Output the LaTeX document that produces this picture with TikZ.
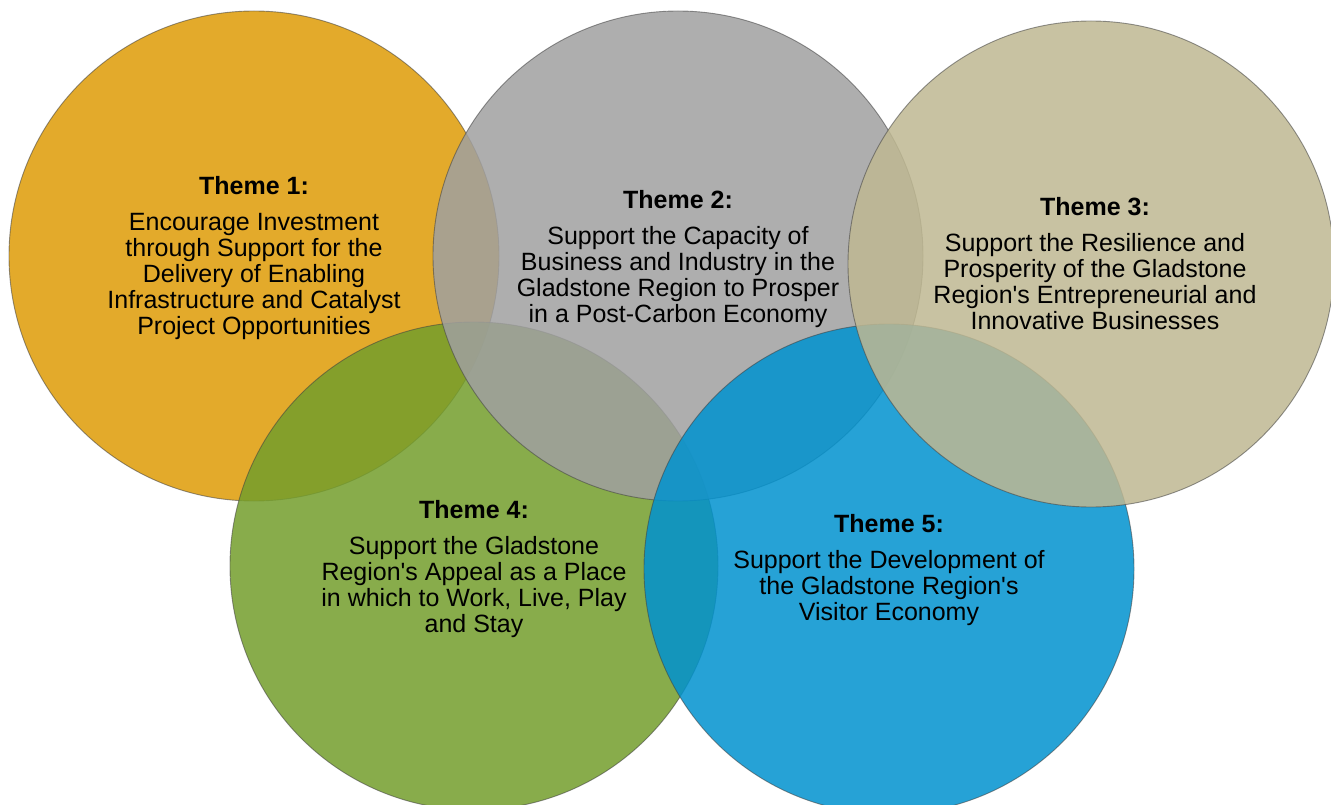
\documentclass[tikz,border=0pt]{standalone}
\usepackage{fontspec}
\setmainfont{Liberation Sans}[Ligatures=TeXOff]
\definecolor{cOrange}{RGB}{223,156,7}
\definecolor{cGray}{RGB}{160,160,160}
\definecolor{cTan}{RGB}{191,184,146}
\definecolor{cGreen}{RGB}{116,158,44}
\definecolor{cBlue}{RGB}{0,146,207}
\begin{document}
\begin{tikzpicture}[x=1pt,y=-1pt,
  circ/.style={fill opacity=0.85, draw=black!75, draw opacity=0.55, line width=0.9pt},
  lbl/.style={align=center, anchor=north, inner sep=0pt, text=black, font=\fontsize{25}{26}\selectfont}]
\useasboundingbox (0,0) rectangle (1331,805);
\fill[white] (0,0) rectangle (1331,805);
% circles (stacking order as in the reference)
\draw[circ, fill=cOrange] (254,256) circle[radius=245pt];
\draw[circ, fill=cGreen]  (474,566) circle[radius=244pt];
\draw[circ, fill=cGray]   (678,256) circle[radius=245pt];
\draw[circ, fill=cBlue]   (889,569) circle[radius=245pt];
\draw[circ, fill=cTan]    (1091,264) circle[radius=243pt];
% labels
\node[lbl] (t1) at (254,176) {\textbf{Theme 1:}\\[10pt]Encourage Investment\\through Support for the\\Delivery of Enabling\\Infrastructure and Catalyst\\Project Opportunities};
\node[lbl] (t2) at (678,190) {\textbf{Theme 2:}\\[10pt]Support the Capacity of\\Business and Industry in the\\Gladstone Region to Prosper\\in a Post-Carbon Economy};
\node[lbl] (t3) at (1095,197) {\textbf{Theme 3:}\\[10pt]Support the Resilience and\\Prosperity of the Gladstone\\Region's Entrepreneurial and\\Innovative Businesses};
\node[lbl] (t4) at (474,500) {\textbf{Theme 4:}\\[10pt]Support the Gladstone\\Region's Appeal as a Place\\in which to Work, Live, Play\\and Stay};
\node[lbl] (t5) at (889,514) {\textbf{Theme 5:}\\[10pt]Support the Development of\\the Gladstone Region's\\Visitor Economy};
\end{tikzpicture}
\end{document}
